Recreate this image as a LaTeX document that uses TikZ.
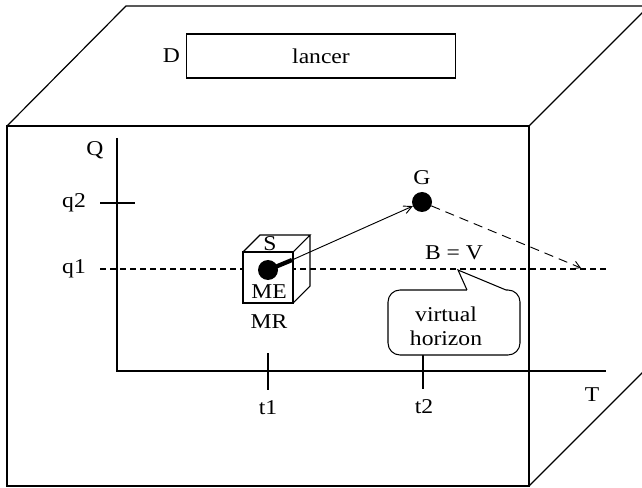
\documentclass[tikz,border=0pt]{standalone}
\usepackage{fontspec}
\setmainfont[FakeStretch=1.12]{Liberation Serif}
\usetikzlibrary{arrows.meta}
\begin{document}
\begin{tikzpicture}[x=0.75pt,y=-0.75pt,
    font=\fontsize{15.8}{17}\selectfont,
    every node/.style={inner sep=0pt, outer sep=0pt},
    edge/.style={line width=0.9pt, line join=miter},
    axis/.style={line width=1.1pt},
    tick/.style={line width=0.8pt},
    dot/.style={circle, fill=black, minimum size=15pt},
    qline/.style={line width=0.8pt, dash pattern=on 4.5pt off 3pt},
    traj/.style={line width=0.7pt, dash pattern=on 7pt off 4.5pt,
                 -{Straight Barb[length=5pt,width=6pt]}},
    move/.style={line width=0.7pt, -{Straight Barb[length=6pt,width=6pt]}}]
\useasboundingbox (0,0) rectangle (642,488);
\begin{scope}
\clip (0,0) rectangle (642,488);
% outer box: front face, top face, right face
\draw[edge] (7,126) rectangle (529,486);
\draw[edge] (7,126) -- (126,6) -- (660,6);
\draw[edge] (529,126) -- (660,-5);
\draw[edge] (529,486) -- (660,355);
\end{scope}

% launcher on the top face
\node[draw, line width=0.8pt, minimum width=202pt, minimum height=33pt] (lancer) at (321,56) {lancer};
\node[anchor=east] (D) at (180,56) {D};

% axes
\coordinate (O) at (117,371);
\coordinate (Qtop) at (117,138);
\coordinate (Tend) at (606,371);
\draw[axis] (Qtop) -- (O) -- (Tend);
\node (Q) at (95,150) {Q};
\node (T) at (592,395) {T};

% ticks on the Q axis
\coordinate (q2a) at (100,203);
\coordinate (q2b) at (135,203);
\draw[tick] (q2a) -- (q2b);
\node (q2) at (74,203) {q2};
\node (q1) at (74,269) {q1};
\coordinate (q1a) at (100,269);
\coordinate (q1b) at (606,269);
\draw[qline] (q1a) -- (q1b);

% ticks on the T axis
\coordinate (t1a) at (268,353);
\coordinate (t1b) at (268,390);
\coordinate (t2a) at (423,353);
\coordinate (t2b) at (423,389);
\draw[tick] (t1a) -- (t1b);
\draw[tick] (t2a) -- (t2b);
\node (t1) at (268,408) {t1};
\node (t2) at (424,407) {t2};

% small cube MR
\draw[line width=0.8pt, fill=white] (243,252) rectangle (293,303);
\draw[line width=0.8pt] (243,252) -- (260,235) -- (310,235) -- (293,252)
      (310,235) -- (310,286) -- (293,303);
\node (S) at (270,244) {S};
\node (ME) at (269,292) {ME};
\node (MR) at (269,322) {MR};

% mobile element with its handle
\node[dot] (me) at (268,270) {};
\coordinate (h) at (292,260);
\draw[line width=3.2pt] (me.center) -- (h);

% goal point G
\node[dot] (G) at (422,202) {};
\node (Glbl) at (422,178) {G};
\draw[move] (h) -- (G);
\coordinate (V) at (581,268);
\draw[traj] (G) -- (V);

\node (BV) at (454,253) {B = V};

% callout: virtual horizon
\coordinate (tip) at (458,270);
\draw[line width=0.8pt, fill=white, rounded corners=9pt] (388,290) rectangle (520,355);
\fill[white] (467,288) rectangle (506,292);
\draw[line width=0.8pt, line join=miter] (467,290) -- (tip) -- (506,290);
\node[align=center, font=\fontsize{15.8}{18}\selectfont] (vh) at (446,326) {virtual\\horizon};
\end{tikzpicture}
\end{document}
